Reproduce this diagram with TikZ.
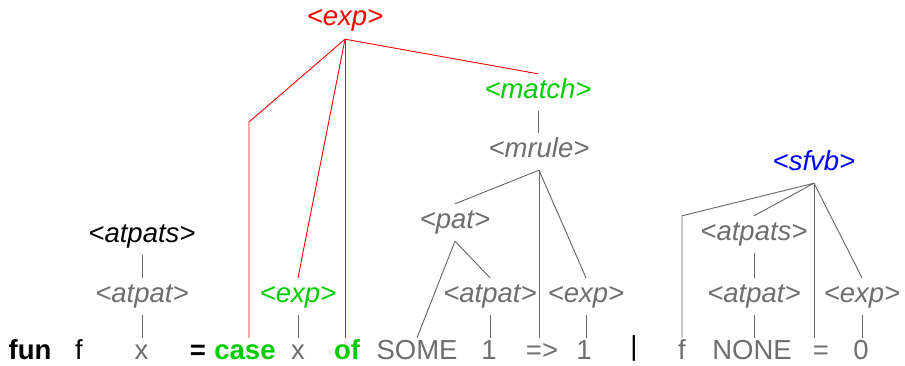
\documentclass[tikz,border=0pt]{standalone}
\usepackage{fontspec}
\setmainfont{Liberation Sans}
\definecolor{tgray}{RGB}{110,110,110}
\definecolor{lgray}{RGB}{100,100,100}
\definecolor{tgreen}{RGB}{0,204,0}
\definecolor{tblue}{RGB}{0,0,255}
\definecolor{tred}{RGB}{255,0,0}
\begin{document}
\begin{tikzpicture}[x=1pt,y=1pt,
  lbl/.style={font=\fontsize{27.5}{32}\selectfont, inner xsep=0pt, inner ysep=4pt,
    text height=20pt, text depth=9pt, anchor=base},
  term/.style={lbl, inner ysep=0pt, text height=21pt, text depth=0pt},
  nt/.style={lbl, font=\fontsize{27.5}{32}\selectfont\itshape},
  bt/.style={term, font=\fontsize{27.5}{32}\selectfont\bfseries},
  gr/.style={text=tgray},
  gn/.style={text=tgreen},
  edge/.style={draw=lgray, line width=0.9pt},
  redge/.style={draw=tred, line width=0.9pt}]
\useasboundingbox (0,0) rectangle (905,365);
% bottom row
\node[bt] (fun) at (30,6) {fun};
\node[term] (f1) at (79,6) {f};
\node[term,gr] (x1) at (141.5,6) {x};
\node[bt] (eq1) at (198,6) {=};
\node[bt,gn] (case) at (245,6) {case};
\node[term,gr] (x2) at (298,6) {x};
\node[bt,gn] (of) at (347,6) {of};
\node[term,gr] (some) at (417,6) {SOME};
\node[term,gr] (one1) at (489,6) {1};
\node[term,gr] (arrow) at (542,6) {=>};
\node[term,gr] (one2) at (584,6) {1};
\node[term] (bar) at (634,6) {\raisebox{4pt}{|}};
\node[term,gr] (f2) at (682,6) {f};
\node[term,gr] (none) at (752,6) {NONE};
\node[term,gr] (eq2) at (821,6) {=};
\node[term,gr] (zero) at (861,6) {0};
% second row
\node[nt,gr] (atpat1) at (142,63) {<atpat>};
\node[nt,gn] (gexp) at (298,63) {<exp>};
\node[nt,gr] (atpat2) at (490,63) {<atpat>};
\node[nt,gr] (exp2) at (586,63) {<exp>};
\node[nt,gr] (atpat3) at (754,63) {<atpat>};
\node[nt,gr] (exp3) at (862,63) {<exp>};
% upper rows
\node[nt] (atpats1) at (142,123) {<atpats>};
\node[nt,gr] (pat) at (455,137) {<pat>};
\node[nt,gr] (atpats2) at (754,125) {<atpats>};
\node[nt,text=tblue] (sfvb) at (814,195) {<sfvb>};
\node[nt,gr] (mrule) at (539,208) {<mrule>};
\node[nt,gn] (match) at (538,267) {<match>};
\node[nt,text=tred] (rexp) at (345,339) {<exp>};
\coordinate (kink) at (249,243);
% gray edges
\draw[edge] (atpats1.south) -- (atpats1.south |- atpat1.north);
\draw[edge] (atpat1.south) -- (atpat1.south |- x1.north);
\draw[edge] (gexp.south) -- (gexp.south |- x2.north);
\draw[edge] (match.south) -- (match.south |- mrule.north);
\draw[edge] (mrule.south) -- (pat.north);
\draw[edge] (mrule.south) -- (mrule.south |- arrow.north);
\draw[edge] (mrule.south) -- (exp2.north);
\draw[edge] (pat.south) -- (some.north);
\draw[edge] (pat.south) -- (atpat2.north);
\draw[edge] (atpat2.south) -- (atpat2.south |- one1.north);
\draw[edge] (exp2.south) -- (exp2.south |- one2.north);
\draw[edge] (sfvb.south) -- (f2.north |- atpats2.north) -- (f2.north);
\draw[edge] (sfvb.south) -- (atpats2.north);
\draw[edge] (sfvb.south) -- (sfvb.south |- eq2.north);
\draw[edge] (sfvb.south) -- (exp3.north);
\draw[edge] (atpats2.south) -- (atpats2.south |- atpat3.north);
\draw[edge] (atpat3.south) -- (atpat3.south |- none.north);
\draw[edge] (exp3.south) -- (exp3.south |- zero.north);
% red edges
\draw[redge] (rexp.south) -- (kink) -- (kink |- case.north);
\draw[redge] (rexp.south) -- (gexp.north);
\draw[redge] (rexp.south) -- (rexp.south |- of.north);
\draw[redge] (rexp.south) -- (match.north);
\end{tikzpicture}
\end{document}
